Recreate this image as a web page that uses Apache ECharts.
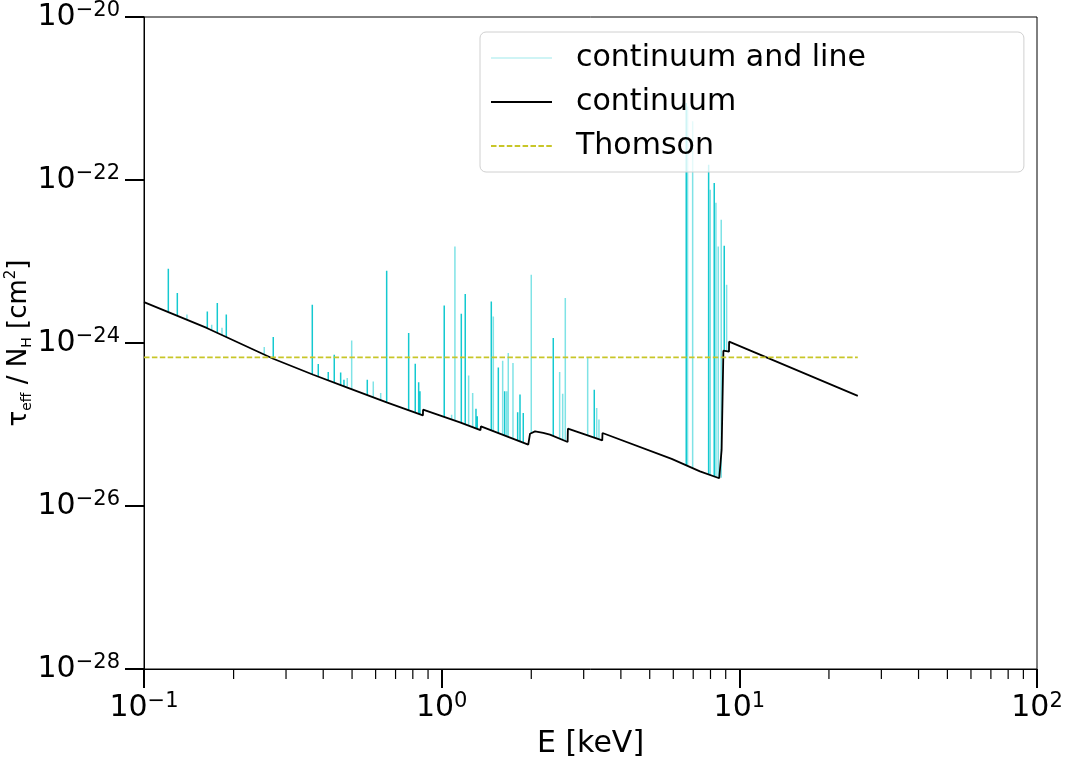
<!DOCTYPE html>
<html>
<head>
<meta charset="utf-8">
<script src="https://cdn.jsdelivr.net/npm/echarts@6/dist/echarts.min.js"></script>
<style>
  html, body { margin: 0; padding: 0; background: #fff; }
  #chart { width: 1068px; height: 777px; }
</style>
</head>
<body>
<div id="chart"></div>
<script>
// continuum optical depth per H
const contE = [0.1, 0.1624, 0.2718, 0.3704, 0.4797, 0.6535, 0.865, 0.866, 1.152, 1.350, 1.355,
  1.954, 1.981, 2.059, 2.194, 2.311, 2.650, 2.655, 3.463, 3.470, 5.925, 7.374, 8.56, 8.72,
  8.83, 8.84, 9.23, 9.24, 25];
const contTau = [3.18e-24, 1.53e-24, 6.41e-25, 4.08e-25, 2.85e-25, 1.866e-25, 1.294e-25, 1.52e-25,
  1.062e-25, 8.51e-26, 9.48e-26, 5.65e-26, 7.71e-26, 8.22e-26, 7.87e-26, 7.50e-26, 6.10e-26,
  8.89e-26, 6.38e-26, 7.87e-26, 3.78e-26, 2.66e-26, 2.19e-26, 4.91e-26, 5.05e-26, 8.05e-25,
  7.82e-25, 1.038e-24, 2.25e-25];

// strong lines: energy, peak and the continuum level under the peak
const strongE = [0.1207, 0.1294, 0.1632, 0.1763, 0.1890, 0.2718, 0.3676, 0.3850, 0.4159, 0.4357,
  0.4578, 0.4696, 0.5625, 0.6535, 0.7747, 0.8152, 0.8370, 0.8454, 1.020, 1.164, 1.200, 1.304,
  1.317, 1.468, 1.550, 1.628, 1.800, 1.833, 1.880, 2.371, 3.256, 6.632, 7.886, 8.235, 8.897];
const strongTop = [8.16e-24, 4.11e-24, 2.44e-24, 3.10e-24, 2.23e-24, 1.185e-24, 2.95e-24, 5.53e-25,
  4.41e-25, 7.18e-25, 4.36e-25, 3.55e-25, 3.55e-25, 7.71e-24, 1.33e-24, 5.57e-25, 3.29e-25,
  2.55e-25, 2.89e-24, 2.29e-24, 3.99e-24, 1.56e-25, 1.26e-25, 3.24e-24, 5.02e-25, 2.55e-25,
  1.41e-25, 2.34e-25, 1.38e-25, 1.15e-24, 2.67e-25, 8.81e-22, 1.54e-22, 9.19e-23, 1.56e-23];
const strongBase = [2.41e-24, 2.17e-24, 1.515e-24, 1.33e-24, 1.185e-24, 6.42e-25, 4.13e-25, 3.87e-25,
  3.48e-25, 3.26e-25, 3.04e-25, 2.94e-25, 2.30e-25, 1.87e-25, 1.49e-25, 1.40e-25, 1.35e-25,
  1.33e-25, 1.24e-25, 1.046e-25, 1.00e-25, 8.93e-26, 8.81e-26, 8.49e-26, 7.84e-26, 7.31e-26,
  6.35e-26, 6.19e-26, 5.96e-26, 7.21e-26, 6.89e-26, 3.12e-26, 2.42e-26, 2.31e-26, 7.90e-25];

// weak lines
const weakE = [0.1394, 0.1688, 0.1828, 0.2535, 0.4818, 0.4985, 0.5892, 0.6239, 1.080, 1.108,
  1.232, 1.271, 1.491, 1.603, 1.654, 1.674, 1.736, 2.000, 2.491, 2.550, 2.602, 3.094, 3.317,
  3.376, 6.700, 6.969, 7.984, 8.344, 8.494, 8.693, 9.064];
const weakTop = [2.23e-24, 1.68e-24, 1.54e-24, 8.93e-25, 3.72e-25, 1.076e-24, 3.38e-25, 2.44e-25,
  1.32e-25, 1.53e-23, 4.00e-25, 2.44e-25, 2.12e-24, 6.06e-25, 2.55e-25, 7.54e-25, 5.68e-25,
  6.89e-24, 4.41e-25, 2.39e-25, 3.57e-24, 6.55e-25, 1.59e-25, 1.15e-25, 8.0e-22, 5.24e-22,
  7.60e-23, 5.27e-23, 1.53e-23, 3.26e-23, 5.19e-24];
const weakBase = [1.93e-24, 1.43e-24, 1.25e-24, 7.21e-25, 2.84e-25, 2.70e-25, 2.15e-25, 1.99e-25,
  1.15e-25, 1.12e-25, 9.67e-26, 9.27e-26, 8.30e-26, 7.48e-26, 7.16e-26, 7.02e-26, 6.68e-26,
  7.87e-26, 6.70e-26, 6.47e-26, 6.27e-26, 7.35e-26, 6.73e-26, 6.58e-26, 3.1e-26, 2.91e-26,
  2.39e-26, 2.27e-26, 2.22e-26, 2.22e-26, 7.82e-25];

// Thomson cross-section
const thomsonE = [0.1, 25];
const thomsonTau = [6.65e-25, 6.65e-25];

// tick positions
const yMajorTicks = [1e-28, 1e-26, 1e-24, 1e-22, 1e-20];
const xMinorTicks = [0.2, 0.3, 0.4, 0.5, 0.6, 0.7, 0.8, 0.9, 2, 3, 4, 5, 6, 7, 8, 9,
  20, 30, 40, 50, 60, 70, 80, 90];

const FONT = 'DejaVu Sans';

function spikes(es, tops, bases) {
  const out = [];
  es.forEach((e, i) => {
    out.push([e, bases[i]], [e, tops[i]], [e, '-']);
  });
  return out;
}

function pow10Label(v) {
  const e = Math.round(Math.log10(v));
  return '{b|10}{e|' + (e < 0 ? '\u2212' : '') + Math.abs(e) + '}';
}

const labelRich = {
  b: { fontSize: 30, fontFamily: FONT, color: '#000', lineHeight: 34 },
  e: { fontSize: 21, fontFamily: FONT, color: '#000', lineHeight: 21, verticalAlign: 'top' }
};

const hiddenMark = { color: 'rgba(0,0,0,0)', borderWidth: 0 };

const chart = echarts.init(document.getElementById('chart'));

chart.setOption({
  animation: false,
  backgroundColor: '#fff',
  grid: {
    left: 144, right: 31, top: 17, bottom: 108,
    containLabel: false, outerBoundsMode: 'none',
    show: true, borderColor: '#000', borderWidth: 1
  },
  legend: {
    orient: 'vertical',
    left: 480, top: 32,
    padding: [11, 158, 11, 10],
    itemWidth: 61, itemHeight: 14, itemGap: 14,
    backgroundColor: 'rgba(255,255,255,0.8)',
    borderColor: '#d0d0d0', borderWidth: 1, borderRadius: 6,
    textStyle: { fontSize: 30, fontFamily: FONT, color: '#000', lineHeight: 30, padding: [0, 0, 0, 19] },
    data: [
      { name: 'continuum and line', itemStyle: hiddenMark,
        lineStyle: { color: 'rgba(0,200,205,0.25)', width: 1.5 } },
      { name: 'continuum', itemStyle: hiddenMark },
      { name: 'Thomson', itemStyle: hiddenMark }
    ]
  },
  xAxis: {
    type: 'log', logBase: 10, min: 0.1, max: 100, splitNumber: 3,
    axisLine: { lineStyle: { color: '#000', width: 1 } },
    axisTick: { length: 19, lineStyle: { color: '#000', width: 2 } },
    splitLine: { show: false },
    axisLabel: { margin: 22, formatter: pow10Label, rich: labelRich },
    name: 'E [keV]', nameLocation: 'middle', nameGap: 60,
    nameTextStyle: { fontSize: 30, fontFamily: FONT, color: '#000' }
  },
  yAxis: {
    type: 'log', logBase: 10, min: 1e-28, max: 1e-20,
    axisLine: { lineStyle: { color: '#000', width: 1 } },
    axisTick: { show: false },
    axisLabel: { show: false },
    splitLine: { show: false },
    name: '{t|\u03c4}{s|eff}{t| / N}{s|H}{t| [cm}{p|2}{t|]}',
    nameLocation: 'middle', nameRotate: 90, nameGap: 110, nameMoveOverlap: false,
    nameTextStyle: {
      rich: {
        t: { fontSize: 26, fontFamily: FONT, color: '#000', lineHeight: 30 },
        s: { fontSize: 14, fontFamily: FONT, color: '#000', lineHeight: 14, verticalAlign: 'bottom' },
        p: { fontSize: 15, fontFamily: FONT, color: '#000', lineHeight: 15, verticalAlign: 'top' }
      }
    }
  },
  series: [
    {
      name: 'continuum and line', type: 'line', symbol: 'none', z: 2,
      data: spikes(weakE, weakTop, weakBase),
      lineStyle: { color: 'rgba(0,200,205,0.5)', width: 1.5 }
    },
    {
      name: 'continuum and line', type: 'line', symbol: 'none', z: 2,
      data: spikes(strongE, strongTop, strongBase),
      lineStyle: { color: 'rgba(0,196,204,0.92)', width: 1.5 }
    },
    {
      name: 'continuum', type: 'line', symbol: 'none', z: 3,
      data: contE.map((e, i) => [e, contTau[i]]),
      lineStyle: { color: '#000', width: 1.8 }
    },
    {
      name: 'Thomson', type: 'line', symbol: 'none', z: 4,
      data: thomsonE.map((e, i) => [e, thomsonTau[i]]),
      lineStyle: { color: 'rgb(200,198,40)', width: 1.7, type: [5.5, 2.4] }
    },
    {
      // minor ticks of the energy axis
      name: 'x minor ticks', type: 'custom', silent: true, clip: false, z: 5,
      data: xMinorTicks.map(v => [v, 1e-28]),
      renderItem: (params, api) => {
        const p = api.coord([api.value(0), api.value(1)]);
        return {
          type: 'line',
          shape: { x1: p[0], y1: p[1], x2: p[0], y2: p[1] + 10 },
          style: { stroke: '#000', lineWidth: 1.2 }
        };
      }
    },
    {
      // major ticks and labels of the optical depth axis
      name: 'y ticks', type: 'custom', silent: true, clip: false, z: 5,
      data: yMajorTicks.map(v => [0.1, v]),
      renderItem: (params, api) => {
        const v = api.value(1);
        const p = api.coord([api.value(0), v]);
        return {
          type: 'group',
          children: [
            {
              type: 'line',
              shape: { x1: p[0] - 19, y1: p[1], x2: p[0], y2: p[1] },
              style: { stroke: '#000', lineWidth: 2 }
            },
            {
              type: 'text',
              style: {
                text: pow10Label(v), rich: labelRich,
                x: p[0] - 24, y: p[1], align: 'right', verticalAlign: 'middle'
              }
            }
          ]
        };
      }
    }
  ]
});
</script>
</body>
</html>
